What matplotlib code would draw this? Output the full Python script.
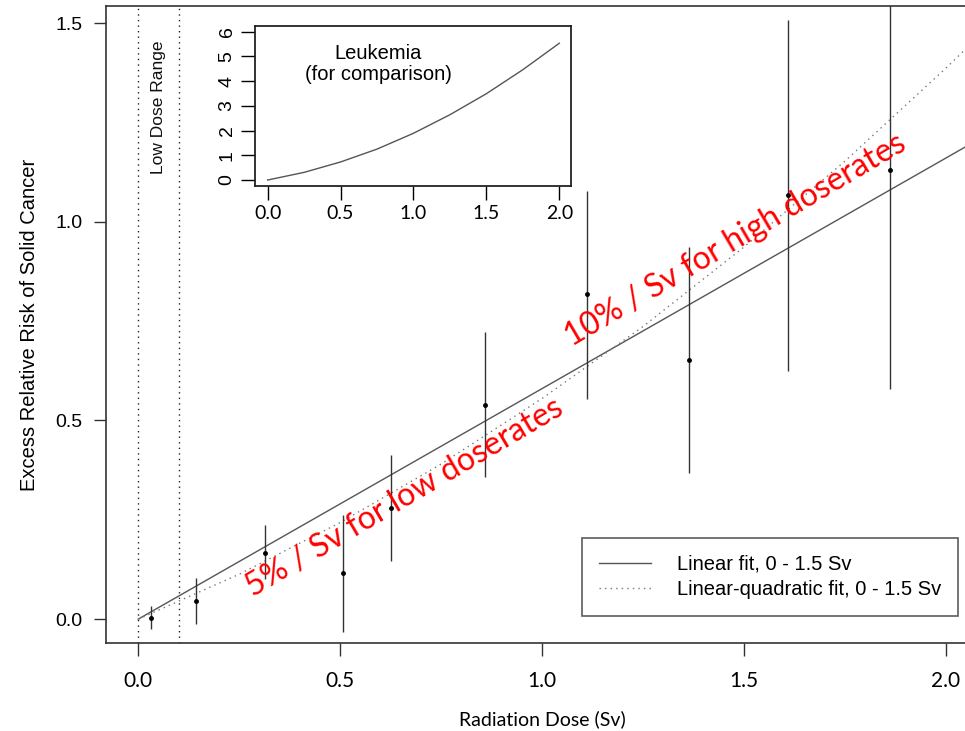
import matplotlib
matplotlib.use('Agg')

import numpy as np
import matplotlib.pyplot as plt

# dose groups (Sv), excess relative risk and error bar ends
dose = [0.032, 0.144, 0.315, 0.508, 0.625, 0.860, 1.111, 1.364, 1.609, 1.861]
err = [0.004, 0.046, 0.167, 0.117, 0.280, 0.540, 0.817, 0.652, 1.067, 1.130]
err_lo = [-0.025, -0.013, 0.100, -0.032, 0.146, 0.358, 0.555, 0.368, 0.625, 0.579]
err_hi = [0.033, 0.103, 0.237, 0.263, 0.413, 0.722, 1.078, 0.936, 1.508, 1.680]

# fitted curves
lin_dose = [0.0, 2.1]
lin_err = [0.0, 1.218]
lq_dose = [0.0, 0.25, 0.5, 0.75, 1.0, 1.25, 1.5, 1.75, 2.0, 2.1]
lq_err = [0.0, 0.113, 0.243, 0.390, 0.555, 0.736, 0.936, 1.152, 1.386, 1.484]

# inset: leukemia
leuk_dose = [0.0, 0.25, 0.5, 0.75, 1.0, 1.25, 1.5, 1.75, 2.0]
leuk_err = [0.0, 0.31, 0.73, 1.25, 1.89, 2.64, 3.49, 4.46, 5.53]

plt.rcParams['font.family'] = ['Liberation Sans', 'DejaVu Sans']
calib = ['Lato', 'DejaVu Sans']

fig = plt.figure(figsize=(9.65, 7.31), dpi=100)
ax = fig.add_axes([0.1098, 0.1204, 0.9036, 0.8714])

ax.axvline(0.0, color='#222222', lw=1.0, ls=(0, (1, 3)))
ax.axvline(0.1, color='#222222', lw=1.0, ls=(0, (1, 3)))

ax.plot(lin_dose, lin_err, '-', color='#555555', lw=1.0,
        label='Linear fit, 0 - 1.5 Sv')
ax.plot(lq_dose, lq_err, color='#777777', lw=1.0, ls=(0, (1, 3)),
        label='Linear-quadratic fit, 0 - 1.5 Sv')
ax.vlines(dose, err_lo, err_hi, color='#333333', lw=1.0)
ax.plot(dose, err, 'o', color='black', ms=2.5)

ax.text(0.05, 1.457, 'Low Dose Range', rotation=90, ha='center', va='top',
        fontsize=12.5, color='#111111')

ax.text(0.66, 0.307, '5% / Sv for low doserates', rotation=30.5,
        ha='center', va='center', color='red', fontsize=23,
        family=calib, rotation_mode='anchor')
ax.text(1.48, 0.954, '10% / Sv for high doserates', rotation=30.5,
        ha='center', va='center', color='red', fontsize=23,
        family=calib, rotation_mode='anchor')

ax.set_xlim(-0.08, 2.08)
ax.set_ylim(-0.06, 1.543)
ax.set_xticks([0.0, 0.5, 1.0, 1.5, 2.0])
ax.set_xticklabels(['0.0', '0.5', '1.0', '1.5', '2.0'], family=calib, fontsize=15)
ax.set_yticks([0.0, 0.5, 1.0, 1.5])
ax.set_yticklabels(['0.0', '0.5', '1.0', '1.5'], fontsize=14)
ax.tick_params(direction='out', length=9, width=1.0, color='#333333', pad=8)
ax.tick_params(axis='x', pad=11)
ax.set_xlabel('Radiation Dose (Sv)', family=calib, fontsize=14, labelpad=14)
ax.set_ylabel('Excess Relative Risk of Solid Cancer', fontsize=14.5,
              labelpad=12)
for s in ax.spines.values():
    s.set_color('#333333')
    s.set_linewidth(1.2)

leg = ax.legend(loc='lower left', bbox_to_anchor=(0.546, 0.0424), fontsize=14.5,
                frameon=True, fancybox=False, handlelength=2.55,
                handletextpad=1.3, borderpad=0.85, borderaxespad=0,
                labelspacing=0.3)
leg.get_frame().set_edgecolor('#333333')
leg.get_frame().set_linewidth(1.2)

# inset
ins = fig.add_axes([0.2642, 0.7456, 0.3275, 0.2193])
ins.plot(leuk_dose, leuk_err, color='#555555', lw=1.0)
ins.set_xlim(-0.087, 2.08)
ins.set_ylim(-0.24, 6.24)
ins.set_xticks([0.0, 0.5, 1.0, 1.5, 2.0])
ins.set_xticklabels(['0.0', '0.5', '1.0', '1.5', '2.0'], family=calib, fontsize=14)
ins.set_yticks(range(7))
ins.set_yticklabels([str(v) for v in range(7)], fontsize=14, rotation=90,
                    va='center')
ins.tick_params(direction='out', length=10, width=1.0, pad=4)
ins.text(0.76, 5.5, 'Leukemia\n(for comparison)', ha='center', va='top',
         fontsize=14.5, linespacing=1.15)
for s in ins.spines.values():
    s.set_color('#222222')
    s.set_linewidth(1.3)

plt.savefig('out.png', dpi=100)
